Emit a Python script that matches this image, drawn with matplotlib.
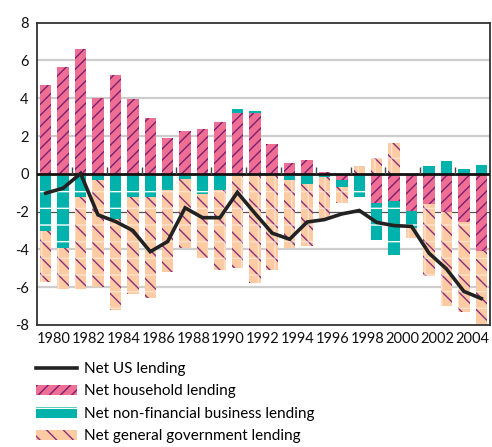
import numpy as np
import matplotlib
matplotlib.use("Agg")
import matplotlib.pyplot as plt
from matplotlib.patches import Patch
from matplotlib.lines import Line2D

plt.rcParams['font.family'] = ['Lato', 'DejaVu Sans']
plt.rcParams['axes.unicode_minus'] = False
plt.rcParams['hatch.linewidth'] = 1.0

years = list(range(1980, 2006))
household = [4.71, 5.66, 6.61, 4.02, 5.24, 3.97, 2.96, 1.90, 2.27, 2.36,
             2.72, 3.22, 3.21, 1.59, 0.57, 0.74, 0.11, -0.30, 0.00, -1.55,
             -1.46, -1.96, -1.59, -2.01, -2.54, -4.06]
business = [-3.05, -3.93, -1.20, -0.35, -2.40, -1.20, -1.20, -0.83, -0.25, -1.08,
            -0.85, 0.27, 0.12, -0.05, -0.35, -0.53, -0.15, -0.42, -1.22, -1.97,
            -2.83, -0.91, 0.39, 0.67, 0.26, 0.48]
government = [-2.65, -2.17, -4.90, -5.65, -4.82, -5.17, -5.38, -4.34, -3.65, -3.40,
              -4.26, -4.96, -5.80, -5.06, -3.60, -3.27, -2.20, -0.83, 0.43, 0.84,
              1.64, -0.50, -3.84, -4.96, -4.76, -3.89]
net_us = [-1.02, -0.76, 0.02, -2.17, -2.52, -3.00, -4.12, -3.58, -1.80, -2.32,
          -2.32, -0.98, -2.08, -3.14, -3.46, -2.55, -2.42, -2.12, -1.94, -2.57,
          -2.74, -2.78, -4.20, -5.03, -6.22, -6.60]

series = [
    ("Net household lending", household, "#EF6F94", "#7A2070", "///"),
    ("Net non-financial business lending", business, "#00B2AC", "white", "-"),
    ("Net general government lending", government, "#FCCBA3", "#8B2C7B", "\\\\"),
]

fig = plt.figure(figsize=(4.92, 4.47), dpi=100)
ax = fig.add_axes([37 / 492, 1 - 325 / 447, 453 / 492, (325 - 22.7) / 447])

x = np.array(years, dtype=float)
pos_base = np.zeros(len(years))
neg_base = np.zeros(len(years))
width = 0.66
for name, vals, face, hcol, hatch in series:
    v = np.array(vals)
    base = np.where(v >= 0, pos_base, neg_base)
    ax.bar(x, v, width, bottom=base, color=face, edgecolor=hcol, hatch=hatch,
           linewidth=0, zorder=2)
    if name.startswith("Net general"):
        # faint white grid inside the peach bars
        ax.bar(x, v, width, bottom=base, facecolor="none",
               edgecolor=(1, 1, 1, 0.45), hatch="+", linewidth=0, zorder=2)
    pos_base = np.where(v >= 0, pos_base + v, pos_base)
    neg_base = np.where(v < 0, neg_base + v, neg_base)

# grid lines
for g in [6, 4, 2, -4, -6]:
    ax.axhline(g, color="#CDCDCD", lw=1.6, zorder=0)
ax.axhline(-2, color="#555555", lw=0.9, zorder=0)
ax.axhline(0, color="#111111", lw=2.0, zorder=3)

# small tick marks on the zero line
tick_pos = [y - 0.5 for y in years if y % 2 == 0 and y > 1980]
ax.vlines(tick_pos, 0, 0.38, color="#444444", lw=1.0, zorder=3)

ax.plot(x, net_us, color="#222222", lw=2.6, zorder=4, solid_joinstyle="miter")

ax.set_xlim(1979.5, 2005.5)
ax.set_ylim(-8, 8)
ax.set_yticks(range(-8, 9, 2))
ax.set_xticks([y - 0.5 for y in years if y % 2 == 0])
ax.set_xticklabels([str(y) for y in years if y % 2 == 0], ha="left")
ax.tick_params(axis="both", length=0, labelsize=10.5, colors="#111111")
ax.tick_params(axis="y", pad=6)
ax.tick_params(axis="x", pad=5)
for sp in ax.spines.values():
    sp.set_color("#333333")
    sp.set_linewidth(1.3)

handles = [Line2D([], [], color="#222222", lw=2.6)]
labels = ["Net US lending"]
for name, vals, face, hcol, hatch in series:
    handles.append(Patch(facecolor=face, edgecolor=hcol, hatch=hatch, linewidth=0))
    labels.append(name)

fig.legend(handles, labels, loc="upper left", bbox_to_anchor=(36 / 492, 1 - 362 / 447),
           frameon=False, fontsize=11, handlelength=2.7, handleheight=0.7,
           handletextpad=0.45, labelspacing=0.55, borderpad=0, borderaxespad=0)

fig.savefig("out.png", dpi=100)
